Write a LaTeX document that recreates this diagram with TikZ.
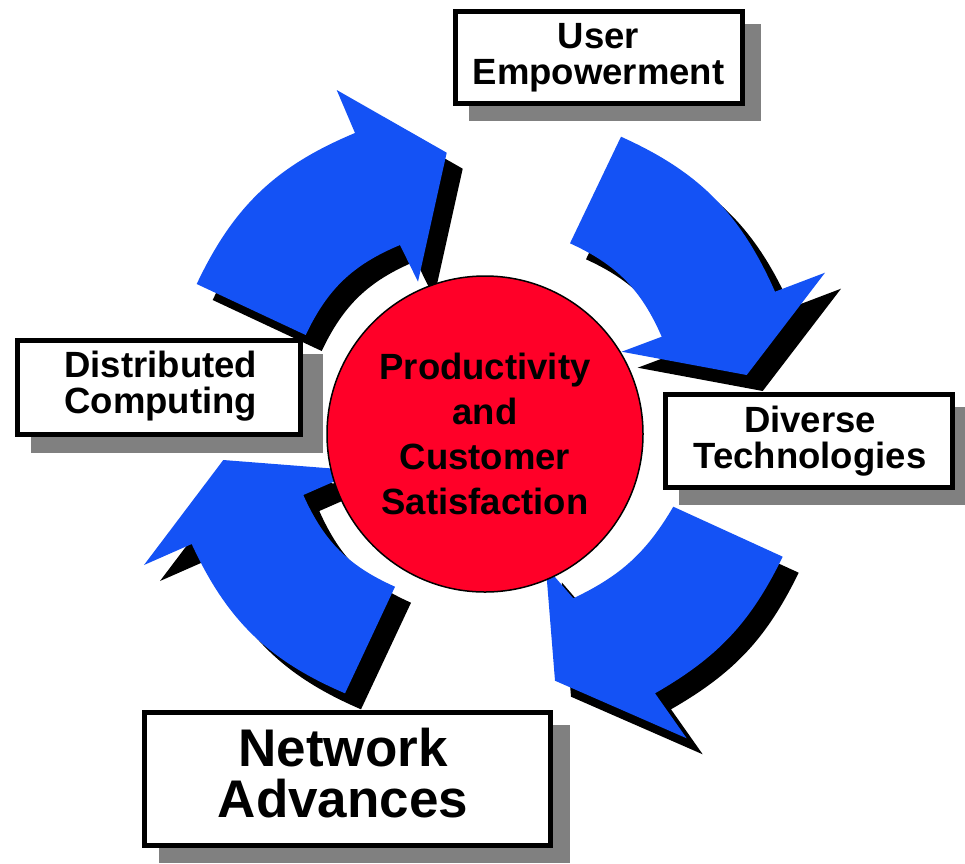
\documentclass[tikz,border=0pt]{standalone}
\usepackage{fontspec}
\setmainfont{Liberation Sans}
\usetikzlibrary{topaths}
\definecolor{arrowblue}{RGB}{20,82,245}
\definecolor{hubred}{RGB}{255,0,40}
\definecolor{shadowgray}{RGB}{128,128,128}
\begin{document}
\begin{tikzpicture}[x=1pt,y=-1pt,
  arrowbody/.style={fill=arrowblue},
  arrowshadow/.style={fill=black, shift={(16,16)}},
  boxshadow/.style={fill=shadowgray},
  labelbox/.style={rectangle, draw=black, line width=5pt, fill=white, inner sep=0pt},
  labeltext/.style={align=center, inner sep=0pt, font=\bfseries\fontsize{36.5}{36.5}\selectfont},
  bigtext/.style={align=center, inner sep=0pt, font=\bfseries\fontsize{53}{51}\selectfont},
  hubstyle/.style={circle, draw=black, line width=1.5pt, fill=hubred, minimum size=316pt, inner sep=0pt, align=center, font=\bfseries\fontsize{36.5}{45}\selectfont},
  arrowA/.style={insert path={(196.7,284) -- (305.7,335) to[bend left=21] (400,245) -- (418,281.7) -- (446.7,152.7) -- (336.7,90) -- (355,133) to[bend right=21] (196.7,284) -- cycle}},
  arrowB/.style={insert path={(621,136.7) -- (570,243.3) to[bend left=21] (661.7,336.7) -- (621.7,351.7) -- (746.7,375) -- (825,272.7) -- (775,291.7) to[bend right=21] (621,136.7) -- cycle}},
  arrowC/.style={insert path={(782.7,556.7) -- (673.3,506.7) to[bend left=17] (573.3,598.3) -- (545.8,566.4) -- (555,680.7) -- (686.7,738.3) -- (655,693.3) to[bend right=17] (782.7,556.7) -- cycle}},
  arrowD/.style={insert path={(345,693.3) -- (395,586.7) to[bend left=21] (303.3,495) -- (359,470.6) -- (223.3,460) -- (144,565) -- (191.7,544) to[bend right=21] (345,693.3) -- cycle}}
]
\useasboundingbox (0,0) rectangle (965,863);

% arrow shadows
\fill[arrowshadow, arrowA];
\fill[arrowshadow, arrowB];
\fill[arrowshadow, arrowC];
\fill[arrowshadow, arrowD];
% arrows
\fill[arrowbody, arrowA];
\fill[arrowbody, arrowB];
\fill[arrowbody, arrowC];
\fill[arrowbody, arrowD];

% hub
\node[hubstyle] (hub) at (485,434) {Productivity\\and\\Customer\\Satisfaction};

% label boxes
\coordinate (ueC) at (599.2,57.7);
\coordinate (dcC) at (159.2,387.8);
\coordinate (dtC) at (809.2,440.8);
\coordinate (naC) at (347.5,779.2);

\fill[boxshadow] ([shift={(16,15)}]ueC) +(-145.8,-48.3) rectangle +(145.8,48.3);
\node[labelbox, minimum width=286.7pt, minimum height=91.7pt] (ueBox) at (ueC) {};
\node[labeltext] (ue) at (598.5,57.5) {User\\Empowerment};

\fill[boxshadow] ([shift={(16,16)}]dcC) +(-144.2,-49.5) rectangle +(148,49.5);
\node[labelbox, minimum width=283.3pt, minimum height=94pt] (dcBox) at (dcC) {};
\node[labeltext] (dc) at (160.8,386) {Distributed\\Computing};

\fill[boxshadow] ([shift={(16,15)}]dtC) +(-145.8,-49.2) rectangle +(145.8,49.2);
\node[labelbox, minimum width=286.7pt, minimum height=93.3pt] (dtBox) at (dtC) {};
\node[labeltext] (dt) at (810,441) {Diverse\\Technologies};

\fill[boxshadow] ([shift={(17,15)}]naC) +(-205.8,-69.2) rectangle +(205.8,69.2);
\node[labelbox, minimum width=406.6pt, minimum height=133.3pt] (naBox) at (naC) {};
\node[bigtext] (na) at (343,773.5) {Network\\Advances};
\end{tikzpicture}
\end{document}
